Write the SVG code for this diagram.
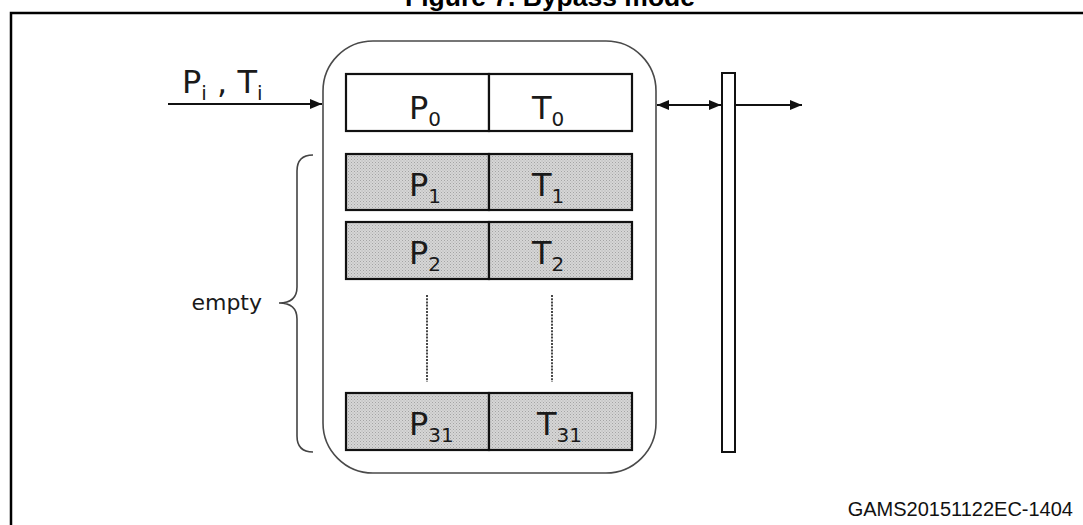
<svg xmlns="http://www.w3.org/2000/svg" width="1083" height="525" viewBox="0 0 1083 525">
<style>
.lbl{font-family:"DejaVu Sans","Verdana",sans-serif;font-size:32px;fill:#1a1a1a}
.sub{font-size:20px}
.cell{stroke:#111;stroke-width:2.2}
.conn{stroke:#111;stroke-width:2;fill:none}
.dot{stroke:#333;stroke-width:1.8;stroke-dasharray:2,1.2}
</style>
<defs>
<pattern id="dots" width="3" height="3" patternUnits="userSpaceOnUse">
<rect width="3" height="3" fill="#d6d6d6"/>
<rect width="1" height="1" fill="#a4a4a4"/>
<rect x="1.5" y="1.5" width="1" height="1" fill="#b0b0b0"/>
</pattern>
<marker id="ah" viewBox="0 0 12 10" refX="12" refY="5" markerWidth="12" markerHeight="10" markerUnits="userSpaceOnUse" orient="auto-start-reverse">
<path d="M0,0 L12,5 L0,10 Z" fill="#111"/>
</marker>
</defs>
<rect width="1083" height="525" fill="#fff"/>
<g id="frame">
<path d="M11,525 L11,13 L1083,13" fill="none" stroke="#000" stroke-width="2.5"/>
<text x="405" y="6" font-family="Liberation Sans, Arial, sans-serif" font-weight="bold" font-size="26" textLength="290" lengthAdjust="spacingAndGlyphs">Figure 7. Bypass mode</text>
</g>
<g id="fifo">
<rect x="323" y="41" width="333" height="432" rx="50" ry="50" fill="none" stroke="#4a4a4a" stroke-width="1.6"/>
</g>
<g id="row0">
<rect class="cell" x="346" y="74" width="143" height="57" fill="#fff"/>
<rect class="cell" x="489" y="74" width="143" height="57" fill="#fff"/>
<text class="lbl" x="409" y="119">P<tspan class="sub" dy="7">0</tspan></text>
<text class="lbl" x="532" y="119">T<tspan class="sub" dy="7">0</tspan></text>
</g>
<g id="row1">
<rect class="cell" x="346" y="154" width="143" height="56" fill="url(#dots)"/>
<rect class="cell" x="489" y="154" width="143" height="56" fill="url(#dots)"/>
<text class="lbl" x="409" y="196">P<tspan class="sub" dy="7">1</tspan></text>
<text class="lbl" x="532" y="196">T<tspan class="sub" dy="7">1</tspan></text>
</g>
<g id="row2">
<rect class="cell" x="346" y="222" width="143" height="57" fill="url(#dots)"/>
<rect class="cell" x="489" y="222" width="143" height="57" fill="url(#dots)"/>
<text class="lbl" x="409" y="264">P<tspan class="sub" dy="7">2</tspan></text>
<text class="lbl" x="532" y="264">T<tspan class="sub" dy="7">2</tspan></text>
</g>
<g id="row31">
<rect class="cell" x="346" y="393" width="143" height="57" fill="url(#dots)"/>
<rect class="cell" x="489" y="393" width="143" height="57" fill="url(#dots)"/>
<text class="lbl" x="409" y="435">P<tspan class="sub" dy="7">31</tspan></text>
<text class="lbl" x="537" y="435">T<tspan class="sub" dy="7">31</tspan></text>
</g>
<g id="bus">
<rect x="722" y="73" width="13" height="379" fill="#fff" stroke="#111" stroke-width="2"/>
</g>
<g id="empty">
<path d="M313,155 Q297,155 297,171 L297,287 Q297,303 279,303 Q297,303 297,319 L297,436 Q297,452 313,452" fill="none" stroke="#444" stroke-width="1.6"/>
<text x="262" y="310" text-anchor="end" font-family="DejaVu Sans, Verdana, sans-serif" font-size="22" fill="#1a1a1a">empty</text>
</g>
<g id="input">
<text class="lbl" x="182" y="93">P<tspan class="sub" dy="7">i</tspan><tspan dy="-7"> , T</tspan><tspan class="sub" dy="7">i</tspan></text>
</g>
<g id="connectors">
<line class="conn" x1="168" y1="104" x2="322" y2="104" marker-end="url(#ah)"/>
<line class="conn" x1="657" y1="105" x2="721" y2="105" marker-start="url(#ah)" marker-end="url(#ah)"/>
<line class="conn" x1="736" y1="105" x2="802" y2="105" marker-end="url(#ah)"/>
<line class="dot" x1="427" y1="295" x2="427" y2="382"/>
<line class="dot" x1="552" y1="295" x2="552" y2="382"/>
</g>
<text x="1073" y="516" text-anchor="end" font-family="Liberation Sans, Arial, sans-serif" font-size="20" fill="#111">GAMS20151122EC-1404</text>
</svg>
